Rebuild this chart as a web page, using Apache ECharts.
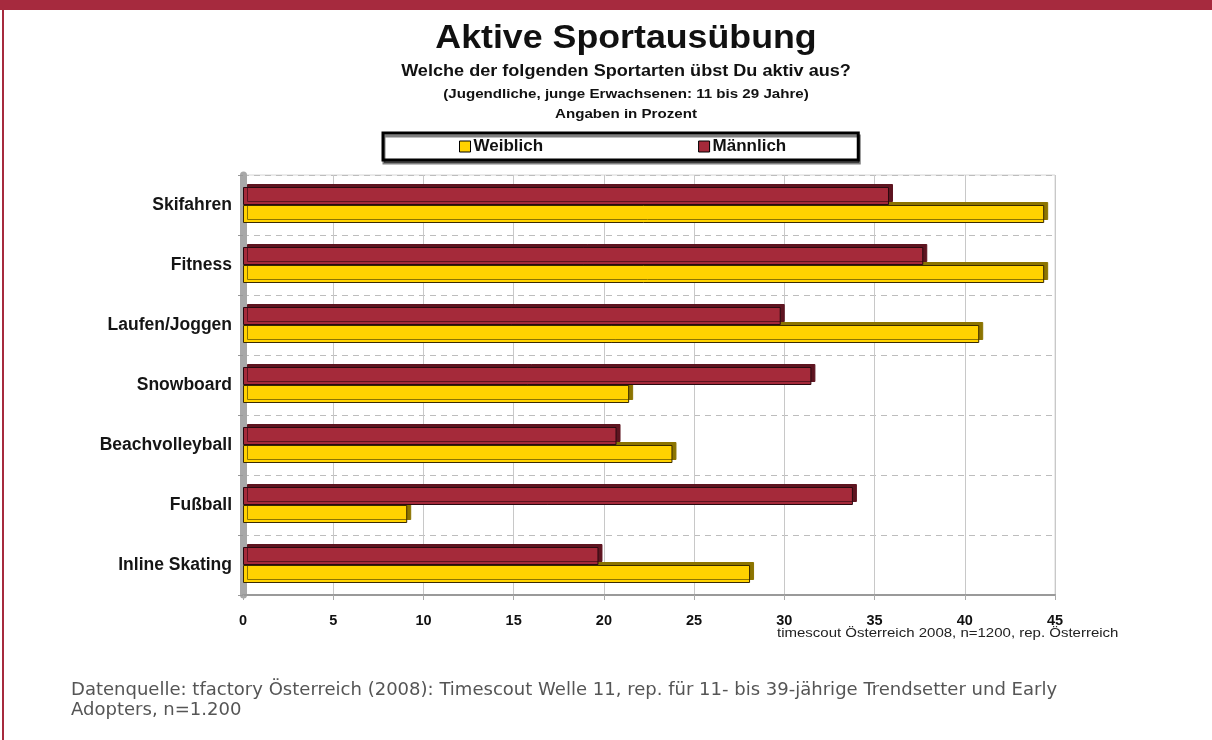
<!DOCTYPE html>
<html>
<head>
<meta charset="utf-8">
<script src="https://cdn.jsdelivr.net/npm/echarts@6/dist/echarts.min.js"></script>
<style>
  body { margin: 0; background: #fff; }
  #chart { width: 1212px; height: 740px; }
</style>
</head>
<body>
<div id="chart"></div>
<script>
// data (percent)
var sports = ["Skifahren", "Fitness", "Laufen/Joggen", "Snowboard", "Beachvolleyball", "Fußball", "Inline Skating"];
var weiblich = [44.4, 44.4, 40.8, 21.4, 23.8, 9.1, 28.1];
var maennlich = [35.8, 37.7, 29.8, 31.5, 20.7, 33.8, 19.7];
var legendNames = ["Weiblich", "Männlich"];
var xTicks = [0, 5, 10, 15, 20, 25, 30, 35, 40, 45];

var chart = echarts.init(document.getElementById("chart"));

// the source picture is a bit stretched sideways, so the texts get a scaleX
function headText(txt, y, size, sx) {
  return {
    type: "text",
    x: 626,
    y: y,
    scaleX: sx,
    style: {
      text: txt,
      font: "bold " + size + "px 'Liberation Sans', Arial, sans-serif",
      fill: "#111",
      textAlign: "center",
      align: "center",
      textVerticalAlign: "middle",
      verticalAlign: "middle"
    }
  };
}

var option = {
  backgroundColor: "#ffffff",
  animation: false,
  textStyle: { fontFamily: "Liberation Sans, Arial, sans-serif" },
  legend: {
    data: legendNames,
    left: 383,
    top: 133,
    orient: "horizontal",
    icon: "rect",
    itemWidth: 11,
    itemHeight: 11,
    itemGap: 155,
    padding: [5, 72, 5, 76],
    backgroundColor: "#ffffff",
    borderColor: "#000",
    borderWidth: 3,
    shadowColor: "rgba(0,0,0,0.5)",
    shadowOffsetX: 1,
    shadowOffsetY: 3,
    itemStyle: { borderColor: "#000", borderWidth: 1 },
    textStyle: { fontSize: 17, fontWeight: "bold", color: "#111", padding: [0, 0, 0, -2] }
  },
  grid: {
    left: 243,
    right: 157,
    top: 175,
    bottom: 145,
    show: true,
    borderColor: "#d6d6d6",
    borderWidth: 1
  },
  xAxis: {
    type: "value",
    min: xTicks[0],
    max: xTicks[xTicks.length - 1],
    interval: 5,
    axisLine: { show: true, lineStyle: { color: "#9a9a9a", width: 2 } },
    axisTick: { show: true, length: 5, lineStyle: { color: "#aaa" } },
    axisLabel: { margin: 18, fontSize: 14.5, fontWeight: "bold", color: "#111" },
    splitLine: { show: true, lineStyle: { color: "#c8c8c8", width: 1 } }
  },
  yAxis: {
    type: "category",
    data: sports,
    inverse: true,
    axisLine: { show: true, lineStyle: { color: "#a8a8a8", width: 7 } },
    axisTick: { show: true, length: 5, lineStyle: { color: "#999" } },
    axisLabel: { margin: 11, fontSize: 17.5, fontWeight: "bold", color: "#151515" },
    splitLine: { show: true, lineStyle: { color: "#bdbdbd", type: [6, 5], width: 1 } }
  },
  series: [
    {
      name: "Männlich",
      type: "bar",
      data: maennlich,
      barWidth: 18,
      barGap: "0%",
      z: 3,
      itemStyle: {
        color: "#a52a3a",
        borderColor: "#2a0a10",
        borderWidth: 1,
        shadowColor: "#5e1420",
        shadowOffsetX: 4,
        shadowOffsetY: -3
      }
    },
    {
      name: "Weiblich",
      type: "bar",
      data: weiblich,
      barWidth: 18,
      barGap: "0%",
      z: 2,
      itemStyle: {
        color: "#ffd200",
        borderColor: "#3a2a00",
        borderWidth: 1,
        shadowColor: "#8c7400",
        shadowOffsetX: 4,
        shadowOffsetY: -3
      }
    }
  ],
  graphic: [
    { type: "rect", left: 0, top: 0, shape: { width: 1212, height: 10 }, style: { fill: "#a62a3e" } },
    { type: "rect", left: 2, top: 0, shape: { width: 2, height: 740 }, style: { fill: "#a62a3e" } },
    headText("Aktive Sportausübung", 39, 32.5, 1.1),
    headText("Welche der folgenden Sportarten übst Du aktiv aus?", 72, 16, 1.13),
    headText("(Jugendliche, junge Erwachsenen: 11 bis 29 Jahre)", 94, 13.5, 1.12),
    headText("Angaben in Prozent", 114, 13.5, 1.12),
    {
      type: "text",
      x: 777,
      y: 634,
      scaleX: 1.2,
      style: {
        text: "timescout Österreich 2008, n=1200, rep. Österreich",
        font: "12.5px 'Liberation Sans', Arial, sans-serif",
        fill: "#222",
        textVerticalAlign: "middle",
        verticalAlign: "middle"
      }
    },
    {
      type: "text",
      x: 71,
      y: 680,
      scaleX: 1.03,
      style: {
        text: "Datenquelle: tfactory Österreich (2008): Timescout Welle 11, rep. für 11- bis 39-jährige Trendsetter und Early\nAdopters, n=1.200",
        font: "17.5px 'DejaVu Sans', Verdana, sans-serif",
        lineHeight: 20,
        fill: "#555"
      }
    }
  ]
};

chart.setOption(option);
</script>
</body>
</html>
